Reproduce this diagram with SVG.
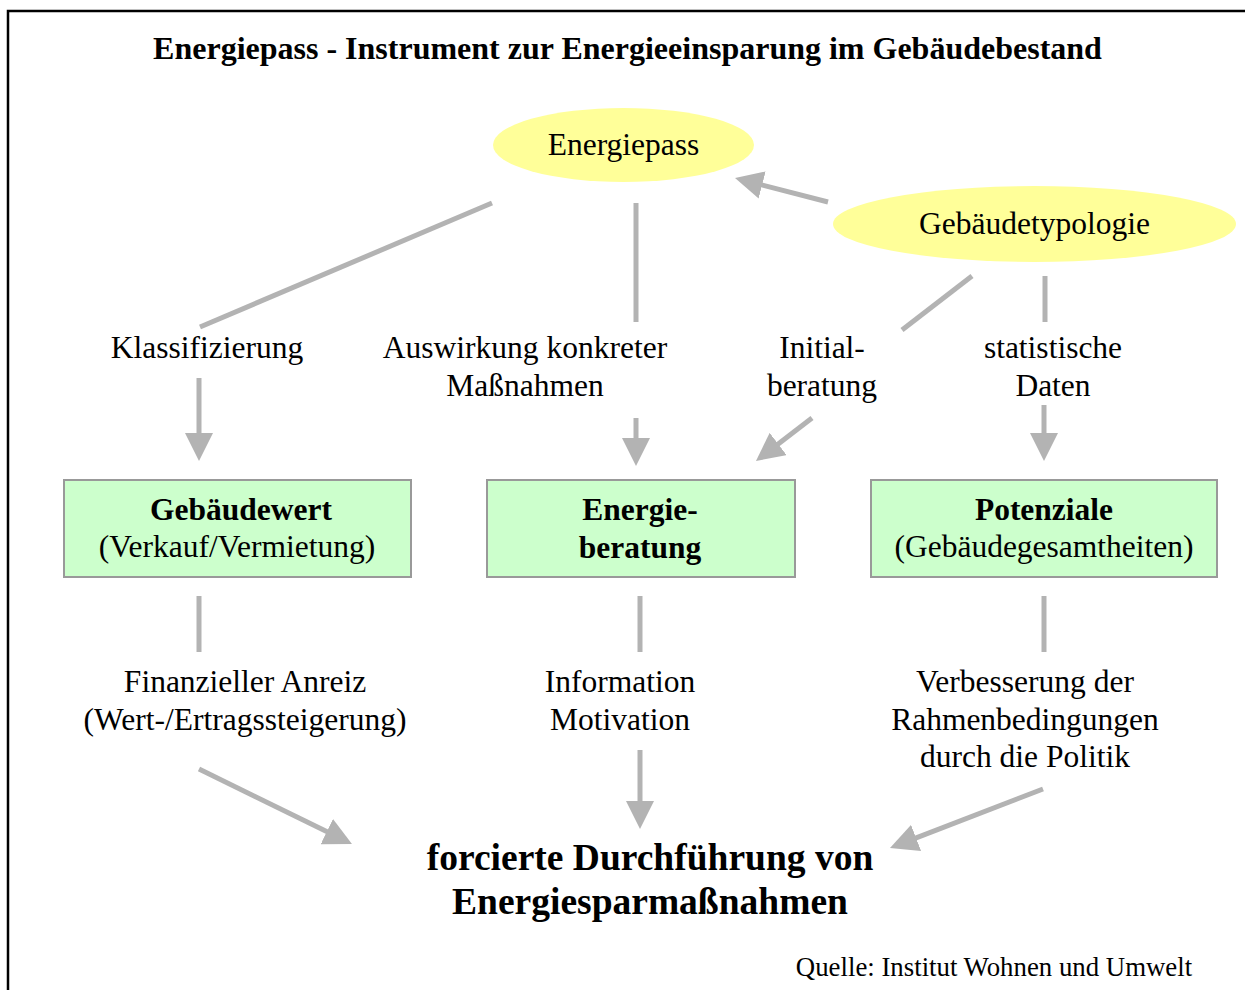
<svg xmlns="http://www.w3.org/2000/svg" width="1245" height="990" viewBox="0 0 1245 990">
<defs>
<style>
text{font-family:"Liberation Serif","Times New Roman",serif;fill:#000;text-anchor:middle}
.t{font-size:31.5px}
.b{font-size:31.5px;font-weight:bold}
.h{font-size:32px;font-weight:bold}
.big{font-size:37.5px;font-weight:bold}
.src{font-size:26.8px}
.ell{fill:#ffff99;stroke:none}
.box{fill:#ccffcc;stroke:#999999;stroke-width:2}
.c{stroke:#b3b3b3;stroke-width:5;fill:none}
.a{stroke:#b3b3b3;stroke-width:5;fill:none;marker-end:url(#ah)}
</style>
<marker id="ah" markerUnits="userSpaceOnUse" markerWidth="28" markerHeight="28" viewBox="0 0 28 28" refX="18" refY="14" orient="auto">
<path d="M0,0 L28,14 L0,28 z" fill="#b3b3b3"/>
</marker>
</defs>
<rect width="1245" height="990" fill="#ffffff"/>
<path d="M8,990 L8,11 L1245,11" fill="none" stroke="#000" stroke-width="2.5"/>
<text id="title" class="h" x="627.5" y="59">Energiepass - Instrument zur Energieeinsparung im Gebäudebestand</text>

<g id="connectors">
<line class="a" x1="828" y1="202" x2="744.7" y2="180.5"/>
<line class="c" x1="492" y1="203" x2="200" y2="327"/>
<line class="c" x1="636" y1="203" x2="636" y2="322"/>
<line class="c" x1="972" y1="276" x2="902" y2="330"/>
<line class="c" x1="1045" y1="276" x2="1045" y2="322"/>
<line class="a" x1="199" y1="378" x2="199" y2="451"/>
<line class="a" x1="636" y1="418" x2="636" y2="456"/>
<line class="a" x1="812" y1="418" x2="763.9" y2="454.9"/>
<line class="a" x1="1044" y1="405" x2="1044" y2="451"/>
<line class="c" x1="199" y1="596" x2="199" y2="652"/>
<line class="c" x1="640" y1="596" x2="640" y2="652"/>
<line class="c" x1="1044" y1="596" x2="1044" y2="652"/>
<line class="a" x1="199" y1="769" x2="343" y2="839.6"/>
<line class="a" x1="640" y1="750" x2="640" y2="819"/>
<line class="a" x1="1043" y1="789" x2="899.3" y2="844.4"/>
</g>

<g id="energiepass">
<ellipse class="ell" cx="623.5" cy="145" rx="130.5" ry="37"/>
<text class="t" x="623.5" y="155">Energiepass</text>
</g>
<g id="gebaeudetypologie">
<ellipse class="ell" cx="1034.5" cy="224" rx="201.5" ry="38"/>
<text class="t" x="1034.5" y="234">Gebäudetypologie</text>
</g>

<g id="label-klassifizierung"><text class="t" x="207" y="358">Klassifizierung</text></g>
<g id="label-auswirkung"><text class="t" x="525" y="358">Auswirkung konkreter</text><text class="t" x="525" y="396">Maßnahmen</text></g>
<g id="label-initial"><text class="t" x="822" y="358">Initial-</text><text class="t" x="822" y="396">beratung</text></g>
<g id="label-statistisch"><text class="t" x="1053" y="358">statistische</text><text class="t" x="1053" y="396">Daten</text></g>

<g id="gebaeudewert">
<rect class="box" x="64" y="480" width="347" height="97"/>
<text class="b" x="241" y="520">Gebäudewert</text>
<text class="t" x="237" y="557">(Verkauf/Vermietung)</text>
</g>
<g id="energieberatung">
<rect class="box" x="487" y="480" width="308" height="97"/>
<text class="b" x="640" y="520">Energie-</text>
<text class="b" x="640" y="558">beratung</text>
</g>
<g id="potenziale">
<rect class="box" x="871" y="480" width="346" height="97"/>
<text class="b" x="1044" y="520">Potenziale</text>
<text class="t" x="1044" y="557">(Gebäudegesamtheiten)</text>
</g>

<g id="label-finanziell"><text class="t" x="245" y="692">Finanzieller Anreiz</text><text class="t" x="245" y="730">(Wert-/Ertragssteigerung)</text></g>
<g id="label-information"><text class="t" x="620" y="692">Information</text><text class="t" x="620" y="730">Motivation</text></g>
<g id="label-politik"><text class="t" x="1025" y="692">Verbesserung der</text><text class="t" x="1025" y="730">Rahmenbedingungen</text><text class="t" x="1025" y="767">durch die Politik</text></g>

<g id="ergebnis">
<text class="big" x="650" y="870">forcierte Durchführung von</text>
<text class="big" x="650" y="914">Energiesparmaßnahmen</text>
</g>
<text id="quelle" class="src" x="994" y="976">Quelle: Institut Wohnen und Umwelt</text>
</svg>
